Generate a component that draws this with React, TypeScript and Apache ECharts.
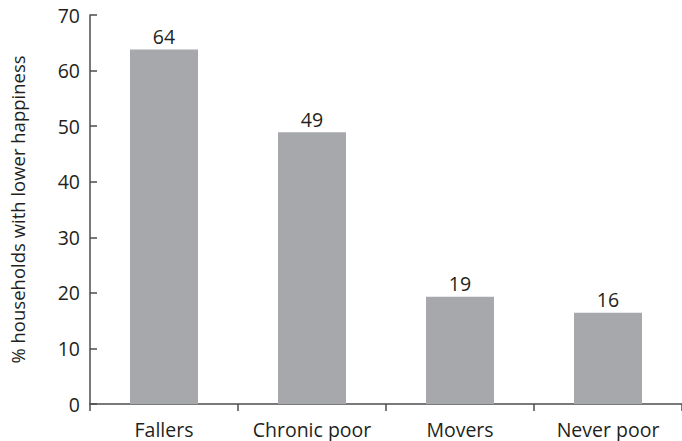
import React, { useEffect, useRef } from "react";
import * as echarts from "echarts";

const categories = ["Fallers", "Chronic poor", "Movers", "Never poor"];
const values = [63.8, 48.9, 19.3, 16.4];
const yTicks = { min: 0, max: 70, interval: 10 };
const yName = "% households with lower happiness";

const FONT = "Open Sans";
const FS = 19.5;
const TEXT = "#231f20";
const AXIS = "#4d4d4f";

export default function App() {
  const ref = useRef<HTMLDivElement>(null);
  useEffect(() => {
    if (!ref.current) return;
    const chart = echarts.init(ref.current, null, { renderer: "svg" });
    chart.setOption({
      animation: false,
      textStyle: { fontFamily: FONT, color: TEXT },
      grid: { left: 90, top: 15, width: 596, height: 389, containLabel: false },
      xAxis: {
        type: "category",
        data: categories,
        axisLine: { lineStyle: { color: AXIS, width: 1.5 } },
        axisTick: { show: true, interval: 0, length: 7, alignWithLabel: false, lineStyle: { color: AXIS, width: 1.5 } },
        axisLabel: { interval: 0, hideOverlap: false, color: TEXT, fontSize: FS, fontFamily: FONT, margin: 15 },
      },
      yAxis: {
        type: "value",
        min: yTicks.min,
        max: yTicks.max,
        interval: yTicks.interval,
        name: yName,
        nameLocation: "middle",
        nameGap: 63,
        nameTextStyle: { color: TEXT, fontSize: 18.5, fontFamily: FONT },
        splitLine: { show: false },
        axisLine: { show: true, lineStyle: { color: AXIS, width: 1.5 } },
        axisTick: { show: true, inside: true, length: 7, lineStyle: { color: AXIS, width: 1.5 } },
        axisLabel: { color: TEXT, fontSize: FS, fontFamily: FONT, margin: 10 },
      },
      series: [
        {
          type: "bar",
          data: values,
          barWidth: 68,
          itemStyle: { color: "#a7a8ab" },
          label: {
            show: true,
            position: "top",
            distance: 3,
            color: TEXT,
            fontSize: FS,
            fontFamily: FONT,
            formatter: (p: any) => String(Math.round(p.value)),
          },
        },
      ],
    });
    return () => chart.dispose();
  }, []);
  return <div ref={ref} style={{ width: 682, height: 441, position: "absolute", left: 0, top: 0 }} />;
}
